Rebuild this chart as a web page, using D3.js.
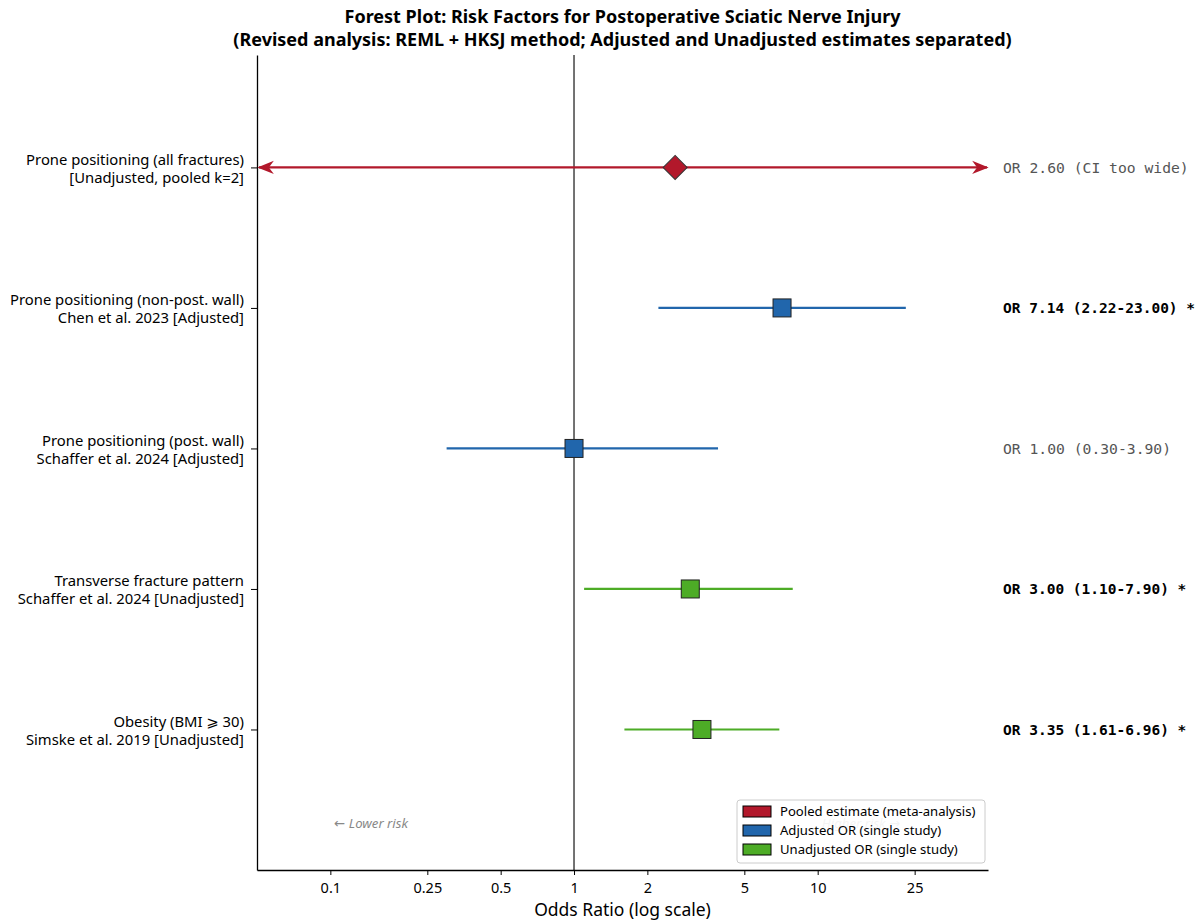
<!DOCTYPE html>
<html>
<head>
<meta charset="utf-8">
<script src="https://cdn.jsdelivr.net/npm/d3@7"></script>
<style>
  body { margin: 0; background: #fff; }
  text { font-family: "Noto Sans", "DejaVu Sans", sans-serif; }
  .mono { font-family: "DejaVu Sans Mono", monospace; }
</style>
</head>
<body>
<div id="chart"></div>
<script>
// data
const rowLabels = [
  ['Prone positioning (all fractures)', '[Unadjusted, pooled k=2]'],
  ['Prone positioning (non-post. wall)', 'Chen et al. 2023 [Adjusted]'],
  ['Prone positioning (post. wall)', 'Schaffer et al. 2024 [Adjusted]'],
  ['Transverse fracture pattern', 'Schaffer et al. 2024 [Unadjusted]'],
  ['Obesity (BMI \u2A7E 30)', 'Simske et al. 2019 [Unadjusted]']
];
const oddsRatios = [2.60, 7.14, 1.00, 3.00, 3.35];
const ciLower = [null, 2.22, 0.30, 1.10, 1.61];   // null = CI too wide, drawn as arrows
const ciUpper = [null, 23.00, 3.90, 7.90, 6.96];
const rowTypes = ['pooled', 'adjusted', 'adjusted', 'unadjusted', 'unadjusted'];
const significant = [false, true, false, true, true];
const xTicks = [0.1, 0.25, 0.5, 1, 2, 5, 10, 25];
const legendLabels = ['Pooled estimate (meta-analysis)', 'Adjusted OR (single study)', 'Unadjusted OR (single study)'];

const colors = { pooled: '#b2182b', adjusted: '#2166ac', unadjusted: '#4dac26' };

const W = 1202, H = 922;
const margin = { top: 55, right: 214, bottom: 52, left: 257 };
const width = W - margin.left - margin.right;
const height = H - margin.top - margin.bottom;

const svg = d3.select('#chart').append('svg')
  .attr('width', W)
  .attr('height', H);

const g = svg.append('g')
  .attr('transform', `translate(${margin.left},${margin.top})`);

// scales
const x = d3.scaleLog().domain([0.05, 50]).range([0, width]);
const y = d3.scaleLinear().domain([-0.8, 5.0]).range([0, height]);

// title
const title = svg.append('text')
  .attr('x', margin.left + width / 2)
  .attr('y', 23)
  .attr('text-anchor', 'middle')
  .style('font-size', '18px')
  .style('font-weight', 'bold');
title.append('tspan').attr('x', margin.left + width / 2).attr('dy', 0)
  .text('Forest Plot: Risk Factors for Postoperative Sciatic Nerve Injury');
title.append('tspan').attr('x', margin.left + width / 2).attr('dy', 23)
  .text('(Revised analysis: REML + HKSJ method; Adjusted and Unadjusted estimates separated)');

// null line at OR = 1
g.append('line')
  .attr('x1', x(1)).attr('x2', x(1))
  .attr('y1', 0).attr('y2', height)
  .attr('stroke', '#444').attr('stroke-width', 1.5);

// x axis
const xAxis = g.append('g')
  .attr('transform', `translate(0,${height})`)
  .call(d3.axisBottom(x).tickValues(xTicks).tickFormat(d => String(d)).tickSize(5).tickSizeOuter(0));
xAxis.select('.domain').attr('stroke', '#000').attr('stroke-width', 1.3);
xAxis.selectAll('.tick line').attr('stroke', '#000');
xAxis.selectAll('.tick text')
  .attr('dy', '1.05em')
  .style('font-size', '14.5px')
  .style('font-family', '"Noto Sans", sans-serif')
  .attr('fill', '#000');

// y axis (left spine + ticks, labels drawn manually as two lines)
const yAxis = g.append('g')
  .call(d3.axisLeft(y).tickValues(d3.range(rowLabels.length)).tickFormat('').tickSize(6).tickSizeOuter(0));
yAxis.select('.domain').attr('stroke', '#000').attr('stroke-width', 1.3);
yAxis.selectAll('.tick line').attr('stroke', '#000');

rowLabels.forEach((lines, i) => {
  const t = g.append('text')
    .attr('x', -13)
    .attr('y', y(i))
    .attr('text-anchor', 'end')
    .style('font-size', '14.8px')
    .attr('fill', '#000');
  t.append('tspan').attr('x', -13).attr('dy', '-0.18em').text(lines[0]);
  t.append('tspan').attr('x', -13).attr('dy', '1.2em').text(lines[1]);
});

// x label
svg.append('text')
  .attr('x', margin.left + width / 2)
  .attr('y', H - 6)
  .attr('text-anchor', 'middle')
  .style('font-size', '17.5px')
  .text('Odds Ratio (log scale)');

// arrowhead marker
const defs = svg.append('defs');
defs.append('marker')
  .attr('id', 'arrow')
  .attr('viewBox', '0 0 10 10')
  .attr('refX', 9).attr('refY', 5)
  .attr('markerWidth', 7.5).attr('markerHeight', 7.5)
  .attr('markerUnits', 'strokeWidth')
  .attr('orient', 'auto-start-reverse')
  .append('path')
  .attr('d', 'M0,1 L10,5 L0,9 L3,5 Z')
  .attr('fill', colors.pooled);

const xMin = x.domain()[0], xMax = x.domain()[1];

// CI lines
oddsRatios.forEach((or, i) => {
  const col = colors[rowTypes[i]];
  const lo = ciLower[i] == null ? xMin : ciLower[i];
  const hi = ciUpper[i] == null ? xMax : ciUpper[i];
  const line = g.append('line')
    .attr('x1', x(lo) + (ciLower[i] == null ? 2 : 0))
    .attr('x2', x(hi) - (ciUpper[i] == null ? 1 : 0))
    .attr('y1', y(i)).attr('y2', y(i))
    .attr('stroke', col)
    .attr('stroke-width', 2.2);
  if (ciLower[i] == null) line.attr('marker-start', 'url(#arrow)');
  if (ciUpper[i] == null) line.attr('marker-end', 'url(#arrow)');
});

// point estimates
oddsRatios.forEach((or, i) => {
  const col = colors[rowTypes[i]];
  if (rowTypes[i] === 'pooled') {
    g.append('path')
      .attr('d', d3.symbol().type(d3.symbolSquare).size(289)())
      .attr('transform', `translate(${x(or)},${y(i)}) rotate(45)`)
      .attr('fill', col)
      .attr('stroke', '#333')
      .attr('stroke-width', 1);
  } else {
    g.append('rect')
      .attr('x', x(or) - 9).attr('y', y(i) - 9)
      .attr('width', 18).attr('height', 18)
      .attr('fill', col)
      .attr('stroke', '#222')
      .attr('stroke-width', 1);
  }
});

// right-side annotations
oddsRatios.forEach((or, i) => {
  let txt;
  if (ciLower[i] == null) txt = `OR ${or.toFixed(2)} (CI too wide)`;
  else txt = `OR ${or.toFixed(2)} (${ciLower[i].toFixed(2)}-${ciUpper[i].toFixed(2)})` + (significant[i] ? ' *' : '');
  g.append('text')
    .attr('class', 'mono')
    .attr('x', width + 15)
    .attr('y', y(i))
    .attr('dy', '0.35em')
    .style('font-size', significant[i] ? '14.5px' : '14.7px')
    .style('font-weight', significant[i] ? 'bold' : 'normal')
    .attr('fill', significant[i] ? '#000' : '#555')
    .text(txt);
});

// direction hints
g.append('text')
  .attr('x', x(0.1) + 4)
  .attr('y', y(4.67))
  .attr('dy', '0.35em')
  .style('font-size', '13.2px')
  .style('font-style', 'italic')
  .attr('fill', '#888')
  .text('\u2190 Lower risk');
g.append('text')
  .attr('x', x(10.4))
  .attr('y', y(4.67))
  .attr('dy', '0.35em')
  .style('font-size', '13.2px')
  .style('font-style', 'italic')
  .attr('fill', '#888')
  .text('Higher risk \u2192');

// legend (drawn over the "Higher risk" hint, as in the reference)
const legend = g.append('g')
  .attr('transform', `translate(${width - 251},${height - 70})`);
legend.append('rect')
  .attr('width', 248).attr('height', 63)
  .attr('rx', 3)
  .attr('fill', '#fff').attr('fill-opacity', 0.9)
  .attr('stroke', '#ccc');
legendLabels.forEach((lab, i) => {
  const key = ['pooled', 'adjusted', 'unadjusted'][i];
  legend.append('rect')
    .attr('x', 6).attr('y', 6 + i * 19)
    .attr('width', 28).attr('height', 11)
    .attr('fill', colors[key])
    .attr('stroke', '#000').attr('stroke-width', 1);
  legend.append('text')
    .attr('x', 43).attr('y', 11.5 + i * 19)
    .attr('dy', '0.35em')
    .style('font-size', '13.1px')
    .text(lab);
});
</script>
</body>
</html>
